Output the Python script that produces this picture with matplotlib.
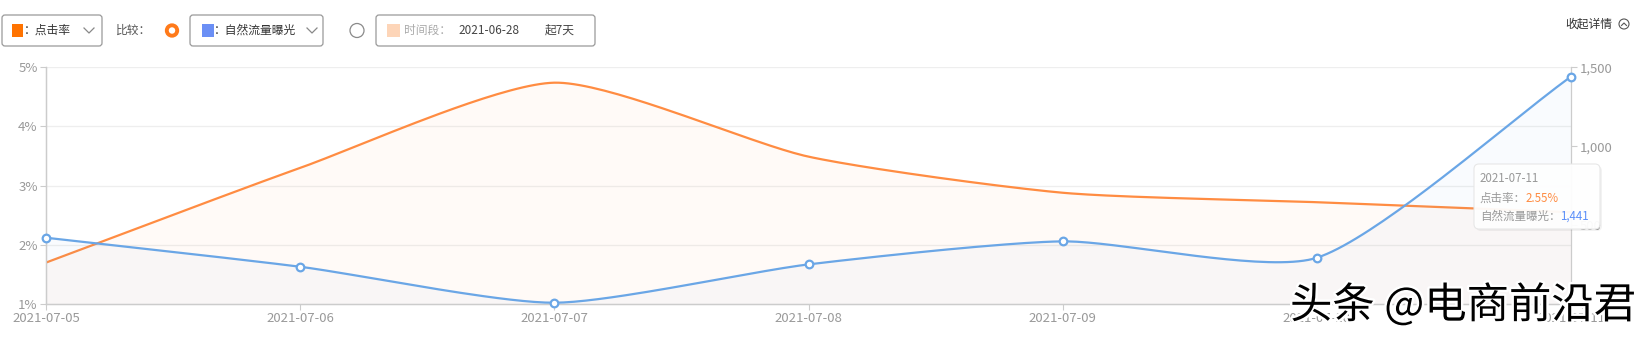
import numpy as np
import matplotlib
matplotlib.use('Agg')
import matplotlib.pyplot as plt
from matplotlib.patches import FancyBboxPatch, Rectangle, Circle
import matplotlib.patheffects as pe

plt.rcParams['font.family'] = ['Noto Sans CJK SC', 'DejaVu Sans']

# 数据
dates = ['2021-07-05', '2021-07-06', '2021-07-07', '2021-07-08',
         '2021-07-09', '2021-07-10', '2021-07-11']
ctr = [1.70, 3.30, 4.74, 3.49, 2.88, 2.72, 2.55]          # 点击率 (%)
exposure = [420, 236, 8, 251, 397, 293, 1441]           # 自然流量曝光
left_ticks = [1, 2, 3, 4, 5]
right_ticks = [0, 500, 1000, 1500]

W, H = 1646, 339
ORANGE = '#ff8c42'
BLUE = '#6aa6e6'
GRID = '#eeeeee'
AXC = '#cccccc'
TXT = '#999999'


def smooth_curve(xp, yp, smooth=0.22, n=40):
    # echarts 风格的平滑曲线 (像素空间)
    pts = np.column_stack([xp, yp]).astype(float)
    cp0, cp1 = [], []
    for i in range(len(pts)):
        p = pts[i]
        prv = pts[i - 1] if i > 0 else p
        nxt = pts[i + 1] if i < len(pts) - 1 else p
        v = (nxt - prv) * smooth
        d0 = np.linalg.norm(p - prv)
        d1 = np.linalg.norm(p - nxt)
        s = d0 + d1
        if s:
            d0, d1 = d0 / s, d1 / s
        cp0.append(p - v * d0)
        cp1.append(p + v * d1)
    out = []
    t = np.linspace(0, 1, n)[:, None]
    for i in range(len(pts) - 1):
        a, b, c, d = pts[i], cp1[i], cp0[i + 1], pts[i + 1]
        seg = (1 - t) ** 3 * a + 3 * (1 - t) ** 2 * t * b + 3 * (1 - t) * t ** 2 * c + t ** 3 * d
        out.append(seg if i == 0 else seg[1:])
    out = np.vstack(out)
    return out[:, 0], out[:, 1]


fig = plt.figure(figsize=(W / 100, H / 100), dpi=100)
ax = fig.add_axes([46 / W, 1 - 304 / H, (1571 - 46) / W, (304 - 67.3) / H])
ax2 = ax.twinx()

x = np.arange(len(dates))
xpx = x * (1525 / 6)
plot_h = 304 - 67.3

# 点击率曲线
oy_px = (np.array(ctr) - 1) / 4 * plot_h
sx, sy = smooth_curve(xpx, oy_px)
ox = sx / (1525 / 6)
oy = sy / plot_h * 4 + 1
ax.fill_between(ox, oy, 1, color=ORANGE, alpha=0.04, lw=0)
ax.plot(ox, oy, color=ORANGE, lw=1.6, zorder=3)

# 曝光曲线
by_px = np.array(exposure) / 1500 * plot_h
sx, sy = smooth_curve(xpx, by_px)
bx = sx / (1525 / 6)
by = sy / plot_h * 1500
ax2.fill_between(bx, by, 0, color=BLUE, alpha=0.04, lw=0)
ax2.plot(bx, by, color=BLUE, lw=1.6, zorder=3)
ax2.plot(x, exposure, 'o', ms=5.5, mfc='white', mec=BLUE, mew=1.6, zorder=4, clip_on=False)

ax.set_xlim(0, 6)
ax.set_ylim(1, 5)
ax2.set_ylim(0, 1500)
ax.set_xticks(x)
ax.set_xticklabels(dates)
ax.set_yticks(left_ticks)
ax.set_yticklabels([f'{v}%' for v in left_ticks])
ax2.set_yticks(right_ticks)
ax2.set_yticklabels([f'{v:,}' for v in right_ticks])

for g in left_ticks[1:]:
    ax.axhline(g, color=GRID, lw=0.9, zorder=0)

for a in (ax, ax2):
    for s in a.spines.values():
        s.set_color(AXC)
        s.set_linewidth(0.9)
    a.spines['top'].set_visible(False)
    a.tick_params(colors=AXC, labelcolor=TXT, labelsize=9.5, length=4, width=0.8, pad=2)
ax.spines['right'].set_visible(False)
ax.set_facecolor('none')

# 顶部控件与提示框
ov = fig.add_axes([0, 0, 1, 1])
ov.set_xlim(0, W)
ov.set_ylim(H, 0)
ov.axis('off')
ov.patch.set_alpha(0)


def box(x0, x1):
    ov.add_patch(FancyBboxPatch((x0, 15), x1 - x0, 31, boxstyle='round,pad=0,rounding_size=3',
                                fc='white', ec='#9a9a9a', lw=0.9))


def chevron(cx, cy=30.5):
    ov.plot([cx - 5, cx, cx + 5], [cy - 2.5, cy + 2.5, cy - 2.5], color='#888888', lw=0.9)


box(2, 102)
ov.add_patch(Rectangle((12, 24), 11, 13, fc='#ff7300', ec='none'))
ov.text(24, 30.5, '：点击率', fontsize=8.5, color='#333333', va='center')
chevron(89)

ov.text(116, 30.5, '比较：', fontsize=8.5, color='#555555', va='center')
ov.add_patch(Circle((172, 30.5), 5.2, fc='white', ec='#ff7a1a', lw=2.8))

box(190, 323)
ov.add_patch(Rectangle((202, 24), 12, 13, fc='#6b8ff5', ec='none'))
ov.text(214, 30.5, '：自然流量曝光', fontsize=8.5, color='#333333', va='center')
chevron(312)

ov.add_patch(Circle((357, 30.5), 7, fc='white', ec='#8a8a8a', lw=0.9))
box(376, 595)
ov.add_patch(Rectangle((387, 24), 13, 13, fc='#fdd5b8', ec='none'))
ov.text(404, 30.5, '时间段：', fontsize=8.5, color='#aaaaaa', va='center')
ov.text(458, 30.5, '2021-06-28', fontsize=8.5, color='#444444', va='center')
ov.text(545, 30.5, '起7天', fontsize=8.5, color='#444444', va='center')

ov.text(1565, 24, '收起详情', fontsize=8.5, color='#333333', va='center')
ov.add_patch(Circle((1624, 24), 5, fc='white', ec='#555555', lw=0.8))
ov.plot([1621.5, 1624, 1626.5], [25.5, 23, 25.5], color='#555555', lw=0.8)

# 提示框
ov.add_patch(FancyBboxPatch((1476, 166), 126, 65, boxstyle='round,pad=0,rounding_size=5',
                            fc='#000000', ec='none', alpha=0.05))
ov.add_patch(FancyBboxPatch((1474, 164), 126, 65, boxstyle='round,pad=0,rounding_size=5',
                            fc='white', ec='#e6e6e6', lw=0.8, alpha=0.95))
ov.text(1480, 179, dates[-1], fontsize=8.3, color='#999999', va='center')
t1 = ov.text(1480, 198, '点击率：', fontsize=8.3, color='#999999', va='center')
ov.annotate(f'{ctr[-1]:.2f}%', xy=(1, 0.5), xycoords=t1, va='center', fontsize=8.3, color=ORANGE)
t2 = ov.text(1480, 216, '自然流量曝光：', fontsize=8.3, color='#999999', va='center')
ov.annotate(f'{exposure[-1]:,}', xy=(1, 0.5), xycoords=t2, va='center', fontsize=8.3, color='#5b8ff9')

# 水印
ov.text(1290, 306, '头条 @电商前沿君', fontsize=30.5, color='black', va='center',
        path_effects=[pe.withStroke(linewidth=3.5, foreground='white')])

fig.savefig('out.png', dpi=100)
